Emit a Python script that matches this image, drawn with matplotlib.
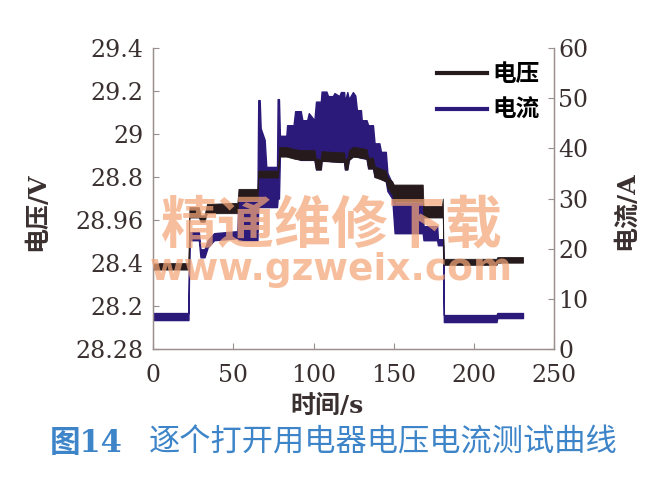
import matplotlib
matplotlib.use("Agg")
import matplotlib.pyplot as plt
from matplotlib.lines import Line2D

plt.rcParams['font.family'] = ['DejaVu Serif', 'Noto Sans CJK SC']

# voltage band (V): time, lower edge, upper edge
volt_t = [0, 22.0, 22.6, 28.5, 29.5, 32.0, 33.5, 52.5, 53.2, 65.0, 65.5, 77.8,
          78.6, 83.0, 88.0, 92.0, 100.5, 101.5, 104.5, 105.0, 116.0, 119.0, 119.5,
          121.0, 122.0, 124.5, 129.5, 133.0, 134.0, 137.0, 138.0, 145.0, 146.0,
          149.0, 150.0, 168.0, 168.5, 180.0, 180.5, 181.0, 214.0, 214.5, 230.5]
volt_lo = [28.370, 28.370, 28.612, 28.612, 28.592, 28.592, 28.632, 28.632, 28.695, 28.695, 28.798, 28.798,
           28.895, 28.895, 28.885, 28.880, 28.880, 28.835, 28.835, 28.875, 28.870, 28.870, 28.835,
           28.835, 28.880, 28.895, 28.890, 28.885, 28.840, 28.840, 28.800, 28.780, 28.750,
           28.720, 28.685, 28.685, 28.612, 28.612, 28.612, 28.392, 28.392, 28.402, 28.402]
volt_hi = [28.400, 28.400, 28.660, 28.660, 28.622, 28.622, 28.675, 28.680, 28.745, 28.745, 28.830, 28.830,
           28.940, 28.940, 28.930, 28.925, 28.925, 28.885, 28.885, 28.920, 28.915, 28.915, 28.885,
           28.885, 28.925, 28.940, 28.935, 28.930, 28.890, 28.890, 28.850, 28.830, 28.800,
           28.780, 28.765, 28.765, 28.665, 28.665, 28.700, 28.420, 28.420, 28.428, 28.428]

# current band (A): time, lower edge, upper edge
curr_t = [0, 22.0, 22.6, 28.5, 29.5, 32.0, 34.0, 38.0, 52.5, 53.2, 65.0, 65.5, 66.4, 67.0,
          69.5, 70.5, 77.2, 77.6, 78.4, 79.0, 83.0, 83.5, 87.5, 88.5, 92.0, 93.0, 96.0,
          97.0, 100.5, 101.5, 104.5, 105.0, 108.0, 109.0, 112.0, 113.0, 116.0, 117.0,
          119.0, 119.5, 121.0, 122.0, 124.5, 126.0, 127.0, 129.5, 130.0, 133.0, 134.0,
          137.0, 138.0, 141.0, 142.0, 145.0, 146.0, 149.0, 150.5, 168.0, 168.5, 177.0,
          177.5, 180.7, 181.2, 214.0, 214.5, 230.5]
curr_lo = [5.8, 5.8, 21.7, 21.7, 18.3, 18.3, 20.3, 21.7, 22.1, 21.7, 21.7, 28.3, 28.3, 28.3,
           28.3, 28.3, 28.3, 30.0, 30.0, 38.5, 38.5, 38.5, 38.3, 38.1, 37.7, 37.7, 37.7,
           37.7, 37.7, 35.8, 35.8, 37.5, 37.5, 37.5, 37.4, 37.4, 37.3, 37.3,
           37.3, 35.8, 35.8, 37.7, 38.4, 38.4, 38.4, 38.1, 38.1, 37.9, 36.0,
           36.0, 34.3, 34.3, 34.0, 33.4, 31.5, 30.0, 23.1, 23.1, 21.7, 21.7,
           20.7, 20.7, 5.4, 5.4, 6.2, 6.2]
curr_hi = [7.2, 7.2, 23.3, 23.3, 19.9, 19.9, 21.7, 23.1, 23.5, 29.7, 29.7, 49.6, 49.6, 44.0,
           41.7, 36.3, 36.3, 49.8, 49.8, 42.5, 42.5, 44.6, 44.6, 47.4, 47.4, 45.6, 45.6,
           47.0, 45.6, 49.3, 49.3, 51.3, 51.3, 50.4, 50.4, 51.0, 50.4, 51.2,
           51.2, 49.3, 51.2, 49.8, 51.2, 50.5, 47.6, 47.6, 45.6, 45.6, 44.6,
           44.6, 41.0, 41.0, 39.3, 39.3, 35.1, 33.0, 29.1, 29.1, 24.5, 24.5,
           21.9, 21.9, 6.8, 6.8, 7.2, 7.2]

volt_ticks = [28.0, 28.2, 28.4, 28.6, 28.8, 29.0, 29.2, 29.4]
volt_ticklabels = ['28.28', '28.2', '28.4', '28.96', '28.8', '29', '29.2', '29.4']
curr_ticks = [0, 10, 20, 30, 40, 50, 60]
time_ticks = [0, 50, 100, 150, 200, 250]

VOLT_COLOR = '#261a1c'
CURR_COLOR = '#2c1a7a'
SPINE_COLOR = '#9a8e8e'
TEXT_COLOR = '#3a3030'

fig = plt.figure(figsize=(6.63, 4.79), dpi=100)
ax1 = fig.add_axes([0.231, 0.271, 0.605, 0.629])
ax2 = ax1.twinx()

ax2.fill_between(curr_t, curr_lo, curr_hi, color=CURR_COLOR, lw=1.0)
ax1.fill_between(volt_t, volt_lo, volt_hi, color=VOLT_COLOR, lw=0.6)

# voltage drawn over current
ax1.set_zorder(ax2.get_zorder() + 1)
ax1.patch.set_visible(False)

ax1.set_xlim(0, 250)
ax1.set_ylim(28.0, 29.4)
ax2.set_ylim(0, 60)
ax1.set_xticks(time_ticks)
ax1.set_yticks(volt_ticks)
ax1.set_yticklabels(volt_ticklabels)
ax2.set_yticks(curr_ticks)

for ax in (ax1, ax2):
    ax.spines['top'].set_visible(False)
    for s in ('left', 'right', 'bottom'):
        ax.spines[s].set_color(SPINE_COLOR)
        ax.spines[s].set_linewidth(0.9)
    ax.tick_params(direction='in', length=4, width=0.8, color=SPINE_COLOR,
                   labelsize=17, labelcolor=TEXT_COLOR)
ax1.tick_params(axis='y', pad=7)
ax1.tick_params(axis='x', pad=11)
ax2.tick_params(axis='y', pad=3)

ax1.set_ylabel('电压/V', fontsize=18, color=TEXT_COLOR, fontweight='bold')
ax1.yaxis.set_label_coords(-0.258, 0.455)
ax2.set_ylabel('电流/A', fontsize=18, color=TEXT_COLOR, fontweight='bold')
ax2.yaxis.set_label_coords(1.148, 0.46)
ax1.set_xlabel('时间/s', fontsize=18, color=TEXT_COLOR, fontweight='bold')
ax1.xaxis.set_label_coords(0.434, -0.15)

handles = [Line2D([], [], color=VOLT_COLOR, lw=3), Line2D([], [], color=CURR_COLOR, lw=3)]
ax1.legend(handles, ['电压', '电流'], loc='upper right', bbox_to_anchor=(1.0, 1.0),
           frameon=False, handlelength=2.1, handletextpad=0.25, borderaxespad=0.2,
           labelspacing=0.5, prop={'weight': 'bold', 'size': 17})

# watermark
fig.text(0.5, 0.527, '精通维修下载', ha='center', va='center', fontsize=41,
         color='#f3a678', alpha=0.72, fontweight='bold', family=['Noto Sans CJK SC'])
fig.text(0.5, 0.437, 'www.gzweix.com', ha='center', va='center', fontsize=27,
         color='#f3a678', alpha=0.72, fontweight='bold', family=['DejaVu Sans'])

# caption
fig.text(0.075, 0.075, '图14', ha='left', va='center', fontsize=22, color='#3d85c8',
         fontweight='bold')
fig.text(0.224, 0.075, '逐个打开用电器电压电流测试曲线', ha='left', va='center',
         fontsize=22.5, color='#3d85c8')

fig.savefig('out.png', dpi=100)
